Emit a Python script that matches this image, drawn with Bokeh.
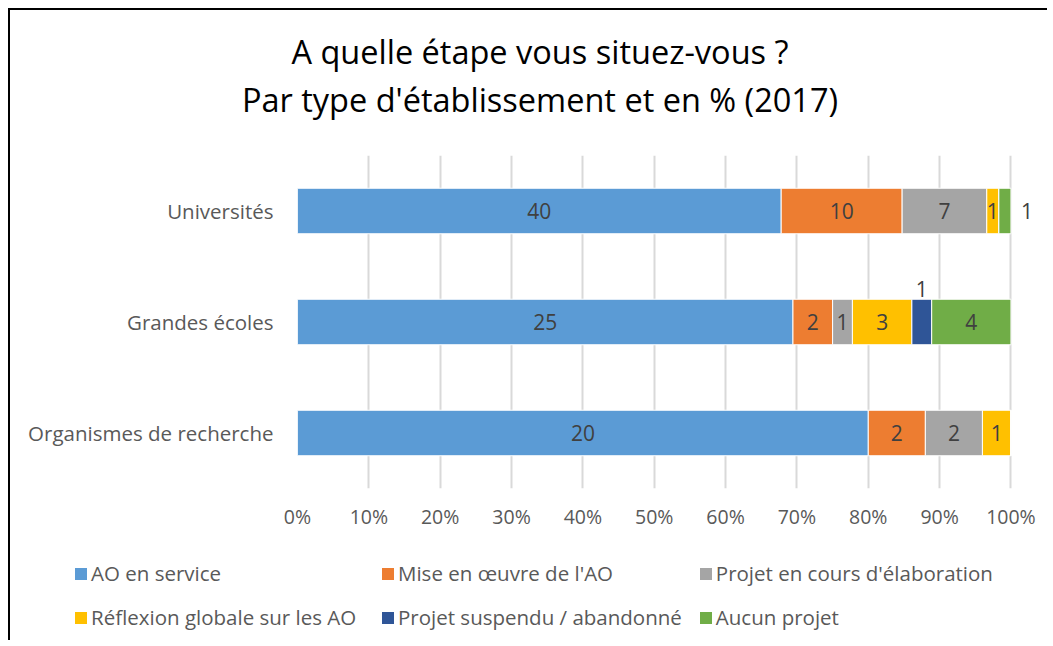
from bokeh.plotting import figure
from bokeh.models import (ColumnDataSource, FactorRange, NumeralTickFormatter, Div,
                          LabelSet, Legend, LegendItem, FixedTicker)
from bokeh.layouts import column
from bokeh.core.properties import value
from bokeh.embed import file_html
from bokeh.resources import INLINE

# ---- data ----
categories = ["Universités", "Grandes écoles", "Organismes de recherche"]
series = ["AO en service", "Mise en œuvre de l'AO", "Projet en cours d'élaboration",
          "Réflexion globale sur les AO", "Projet suspendu / abandonné", "Aucun projet"]
ao_en_service = [40, 25, 20]
mise_en_oeuvre = [10, 2, 2]
projet_elaboration = [7, 1, 2]
reflexion_globale = [1, 3, 1]
projet_suspendu = [0, 1, 0]
aucun_projet = [1, 4, 0]
colors = ["#5B9BD5", "#ED7D31", "#A5A5A5", "#FFC000", "#2F5597", "#70AD47"]
x_ticks = [0, 0.1, 0.2, 0.3, 0.4, 0.5, 0.6, 0.7, 0.8, 0.9, 1.0]
title_lines = ["A quelle étape vous situez-vous ?", "Par type d'établissement et en % (2017)"]
# labels moved off their segment: (category, series index, dx, dy, align)
moved_labels = [("Universités", 5, 10, 0, "left"), ("Grandes écoles", 4, 0, 33, "center")]

values = [ao_en_service, mise_en_oeuvre, projet_elaboration, reflexion_globale,
          projet_suspendu, aucun_projet]
totals = [sum(v[i] for v in values) for i in range(len(categories))]

FONT = "Open Sans"
TXT = "#595959"
W = 1037

title_div = Div(
    text='<div style="margin-left:20px;width:1020px;text-align:center;padding-top:18px;'
         'font-family:\'Open Sans\';font-size:32.5px;line-height:48px;color:#000;">'
         + "<br>".join(title_lines) + "</div>",
    width=W, height=120, margin=0)

p = figure(width=W, height=410, output_backend="svg", toolbar_location=None,
           y_range=FactorRange(factors=list(reversed(categories))),
           x_range=(0, 1.04), min_border_left=287, min_border_right=8,
           min_border_top=25, min_border_bottom=52, margin=0)
p.frame_align = False
p.outline_line_color = None
p.background_fill_color = "white"
p.border_fill_color = "white"

# legend figure (series bars lie outside its visible x range; only the legend shows)
pl = figure(width=W, height=100, output_backend="svg", toolbar_location=None,
            x_range=(-6, -5), y_range=FactorRange(factors=list(reversed(categories))),
            min_border=0, margin=0)
pl.frame_align = False
pl.axis.visible = False
pl.grid.grid_line_color = None
pl.outline_line_color = None
pl.background_fill_color = "white"
pl.border_fill_color = "white"

left = [0.0] * len(categories)
lab_x, lab_y, lab_t, lab_dx, lab_dy, lab_al = [], [], [], [], [], []
items = []
for s, (name, vals, col) in enumerate(zip(series, values, colors)):
    l = list(left)
    r = [l[i] + vals[i] / totals[i] for i in range(len(categories))]
    src = ColumnDataSource(dict(y=categories, left=l, right=r))
    p.hbar(y="y", left="left", right="right", height=0.41, source=src,
           fill_color=col, line_color="white", line_width=1)
    lr = pl.hbar(y="y", left="left", right="right", height=0.41, source=src,
                 fill_color=col, line_color=None)
    items.append(LegendItem(label=name, renderers=[lr]))
    for i, c in enumerate(categories):
        if vals[i] > 0:
            x = (l[i] + r[i]) / 2
            dx, dy, al = 0, 0, "center"
            for mc, ms, mdx, mdy, mal in moved_labels:
                if mc == c and ms == s:
                    dx, dy, al = mdx, mdy, mal
                    if mal == "left":
                        x = r[i]
            lab_x.append(x); lab_y.append(c); lab_t.append(str(vals[i]))
            lab_dx.append(dx); lab_dy.append(dy); lab_al.append(al)
    left = r

lsrc = ColumnDataSource(dict(x=lab_x, y=lab_y, t=lab_t, dx=lab_dx, dy=lab_dy, al=lab_al))
p.add_layout(LabelSet(x="x", y="y", text="t", source=lsrc, x_offset="dx", y_offset="dy",
                      text_align="al", text_baseline="middle", text_font=value(FONT),
                      text_font_size="21px", text_color="#404040"))

# axes
p.xaxis.ticker = FixedTicker(ticks=x_ticks)
p.xaxis.formatter = NumeralTickFormatter(format="0%")
for ax in (p.xaxis[0], p.yaxis[0]):
    ax.axis_line_color = None
    ax.major_tick_line_color = None
    ax.minor_tick_line_color = None
    ax.major_tick_out = 0
    ax.major_tick_in = 0
    ax.minor_tick_out = 0
    ax.major_label_text_color = TXT
    ax.major_label_text_font = FONT
p.xaxis.major_label_text_font_size = "19.5px"
p.xaxis.major_label_standoff = 14
p.yaxis.major_label_text_font_size = "20.5px"
p.yaxis.major_label_standoff = 24
p.xgrid.grid_line_color = "#D9D9D9"
p.xgrid.grid_line_width = 2
p.ygrid.grid_line_color = None

legend = Legend(items=items, orientation="horizontal", ncols=3,
                location=(63, 9), padding=0, margin=0, spacing=16,
                border_line_color=None, background_fill_alpha=0,
                label_text_font=FONT, label_text_font_size="20.5px",
                label_text_color=TXT, glyph_width=15, glyph_height=15,
                label_standoff=3, label_height=24, label_width=273)
pl.add_layout(legend, "center")

layout = column(title_div, p, pl, spacing=0)
layout.styles = {"margin-left": "8px", "margin-top": "8px",
                 "border-left": "2px solid #000000", "border-top": "2px solid #000000"}

open("out.html", "w").write(file_html(layout, INLINE))
